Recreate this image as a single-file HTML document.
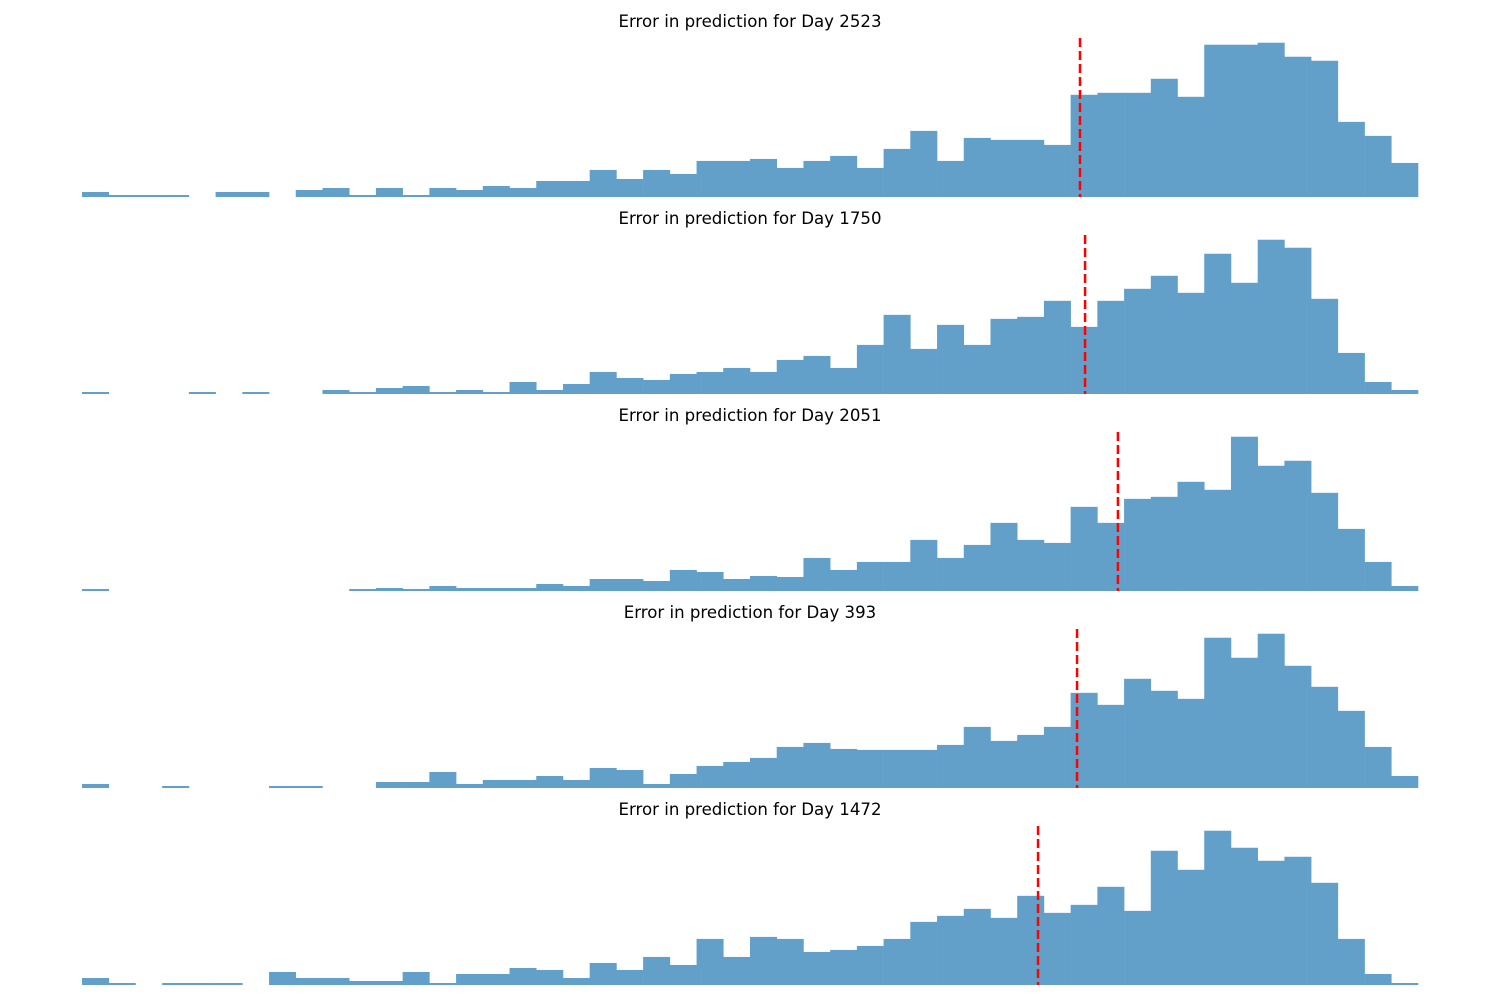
<!DOCTYPE html>
<html><head><meta charset="utf-8"><style>
html,body{margin:0;padding:0;background:#fff;}
svg{display:block;}
</style></head><body>
<svg id="chart" width="1500" height="1000" xmlns="http://www.w3.org/2000/svg"></svg>
<script>
const days = [2523, 1750, 2051, 393, 1472];
const counts1 = [5,2,2,2,0,5,5,0,7,9,2,9,2,9,7,11,9,16,16,27,18,27,23,36,36,38,29,36,41,29,48,66,36,59,57,57,52,102,104,104,118,100,152,152,154,140,136,75,61,34];
const counts2 = [2,0,0,0,2,0,2,0,0,4,2,6,8,2,4,2,12,4,10,22,16,14,20,22,26,22,34,38,26,49,79,45,69,49,75,77,93,67,93,105,118,101,140,111,154,146,95,41,12,4];
const counts3 = [2,0,0,0,0,0,0,0,0,0,2,3,2,5,3,3,3,7,5,12,12,10,21,19,12,15,14,33,21,29,29,51,33,46,68,51,48,84,68,92,94,109,101,154,125,130,98,62,29,5];
const counts4 = [4,0,0,2,0,0,0,2,2,0,0,6,6,16,4,8,8,12,8,20,18,4,14,22,26,30,41,45,39,38,38,38,43,61,47,53,61,95,83,109,97,89,150,130,154,122,101,77,41,12];
const counts5 = [7,2,0,2,2,2,0,13,7,7,4,4,13,2,11,11,17,15,7,22,15,28,20,46,28,48,46,33,35,39,46,63,69,76,67,89,72,80,98,74,134,115,154,137,124,128,102,46,11,2];
const allCounts = [counts1, counts2, counts3, counts4, counts5];
const redLines = [37.35, 37.54, 38.77, 37.24, 35.78];

const NS = 'http://www.w3.org/2000/svg';
const svg = document.getElementById('chart');
const X0 = 82, X1 = 1418;
function mk(tag, attrs){ const e = document.createElementNS(NS, tag); for (const k in attrs) e.setAttribute(k, attrs[k]); return e; }

allCounts.forEach((counts, p) => {
  const nb = counts.length;
  const base = 197 + p * 197;
  const axH = 162;
  const ymax = Math.max(...counts) * 1.05;
  const xs = v => X0 + (X1 - X0) * v / nb;
  const ys = v => base - axH * v / ymax;

  const g = mk('g', {});
  
  
  svg.appendChild(g);

  const t = mk('text', {x: 750, y: base - axH - 8, 'text-anchor': 'middle', 'font-family': 'DejaVu Sans, Liberation Sans, sans-serif', 'font-size': '16.6', fill: '#000'});
  t.textContent = 'Error in prediction for Day ' + days[p];
  
  
  g.appendChild(t);

  counts.forEach((c, i) => {
    if (c <= 0) return;
    const r = mk('rect', {x: xs(i), y: ys(c), width: xs(i + 1) - xs(i) + 0.3, height: base - ys(c), fill: '#62a0ca'});
    
    
    g.appendChild(r);
  });

  const lx = xs(redLines[p]);
  const l = mk('line', {x1: lx, x2: lx, y1: base - axH + 3, y2: base, stroke: '#f00', 'stroke-width': 2.5, 'stroke-dasharray': '9,4'});
  
  
  g.appendChild(l);
});
</script>
</body></html>
